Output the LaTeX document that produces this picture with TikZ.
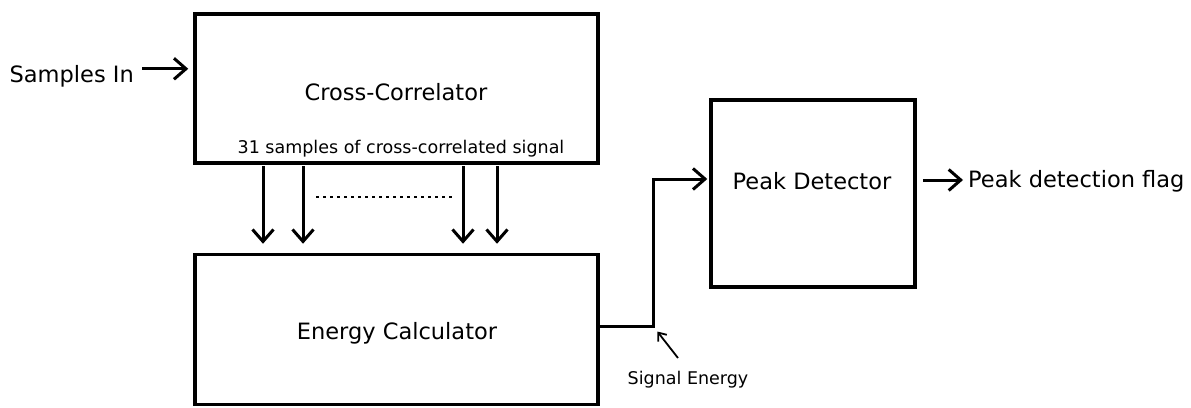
\documentclass[tikz,border=0pt]{standalone}
\usepackage{fontspec}
\setmainfont{DejaVu Sans}
\usetikzlibrary{arrows.meta}
\tikzset{
  box/.style={draw, line width=3.5pt, inner sep=0pt},
  big/.style={inner sep=0pt, font=\fontsize{22.5}{27}\selectfont},
  small/.style={inner sep=0pt, font=\fontsize{17.5}{21}\selectfont},
  arr/.style={line width=3pt, -{Straight Barb[length=12pt,width=21pt]}},
  thinarr/.style={line width=1.8pt, -{Straight Barb[length=7pt,width=11pt]}},
}
\begin{document}
\begin{tikzpicture}[x=1pt,y=-1pt]
\useasboundingbox (0,0) rectangle (1191,407);
% boxes
\node[box, minimum width=403pt, minimum height=149pt] (cc) at (396.5,88.5) {};
\node[box, minimum width=403pt, minimum height=150pt] (ec) at (396.5,329.5) {};
\node[box, minimum width=204pt, minimum height=187pt] (pd) at (813,193.5) {};
% labels
\node[big, anchor=base] (cclab) at (396,100) {Cross-Correlator};
\node[small, anchor=base] (cclab2) at (401,153) {31 samples of cross-correlated signal};
\node[big, anchor=base] (eclab) at (397,339) {Energy Calculator};
\node[big, anchor=base] (pdlab) at (812,189) {Peak Detector};
\node[big, anchor=base east] (in) at (134,82) {Samples In};
\node[big, anchor=base west] (flag) at (968,187) {Peak detection flag};
\node[small, anchor=base] (se) at (688,384) {Signal Energy};
% input arrow
\draw[arr, shorten <=8pt, shorten >=5pt] ([yshift=7pt]in.east) -- ([yshift=7pt]cc.west |- in.east);
% down arrows
\foreach \dx in {-133.5,-93.5,66.5,100.5}{
  \draw[arr, shorten <=1.5pt, shorten >=9pt] ([xshift=\dx pt]cc.south) -- ([xshift=\dx pt]ec.north);
}
% dots
\coordinate (d1) at (316,197);
\coordinate (d2) at (454,197);
\draw[line width=2.5pt, dash pattern=on 3pt off 4pt] (d1) -- (d2);
% signal energy path
\coordinate (j) at (653,326);
\draw[arr, shorten >=2pt] (ec.east |- j) -- (j) |- ([yshift=14.5pt]pd.west);
% output arrow
\draw[arr, shorten <=6pt, shorten >=5pt] ([yshift=7pt]pd.east |- flag.base west) -- ([yshift=7pt]flag.base west);
% signal energy pointer
\coordinate (seA) at (678,358);
\draw[thinarr, shorten >=7pt] (seA) -- (j);
\end{tikzpicture}
\end{document}
